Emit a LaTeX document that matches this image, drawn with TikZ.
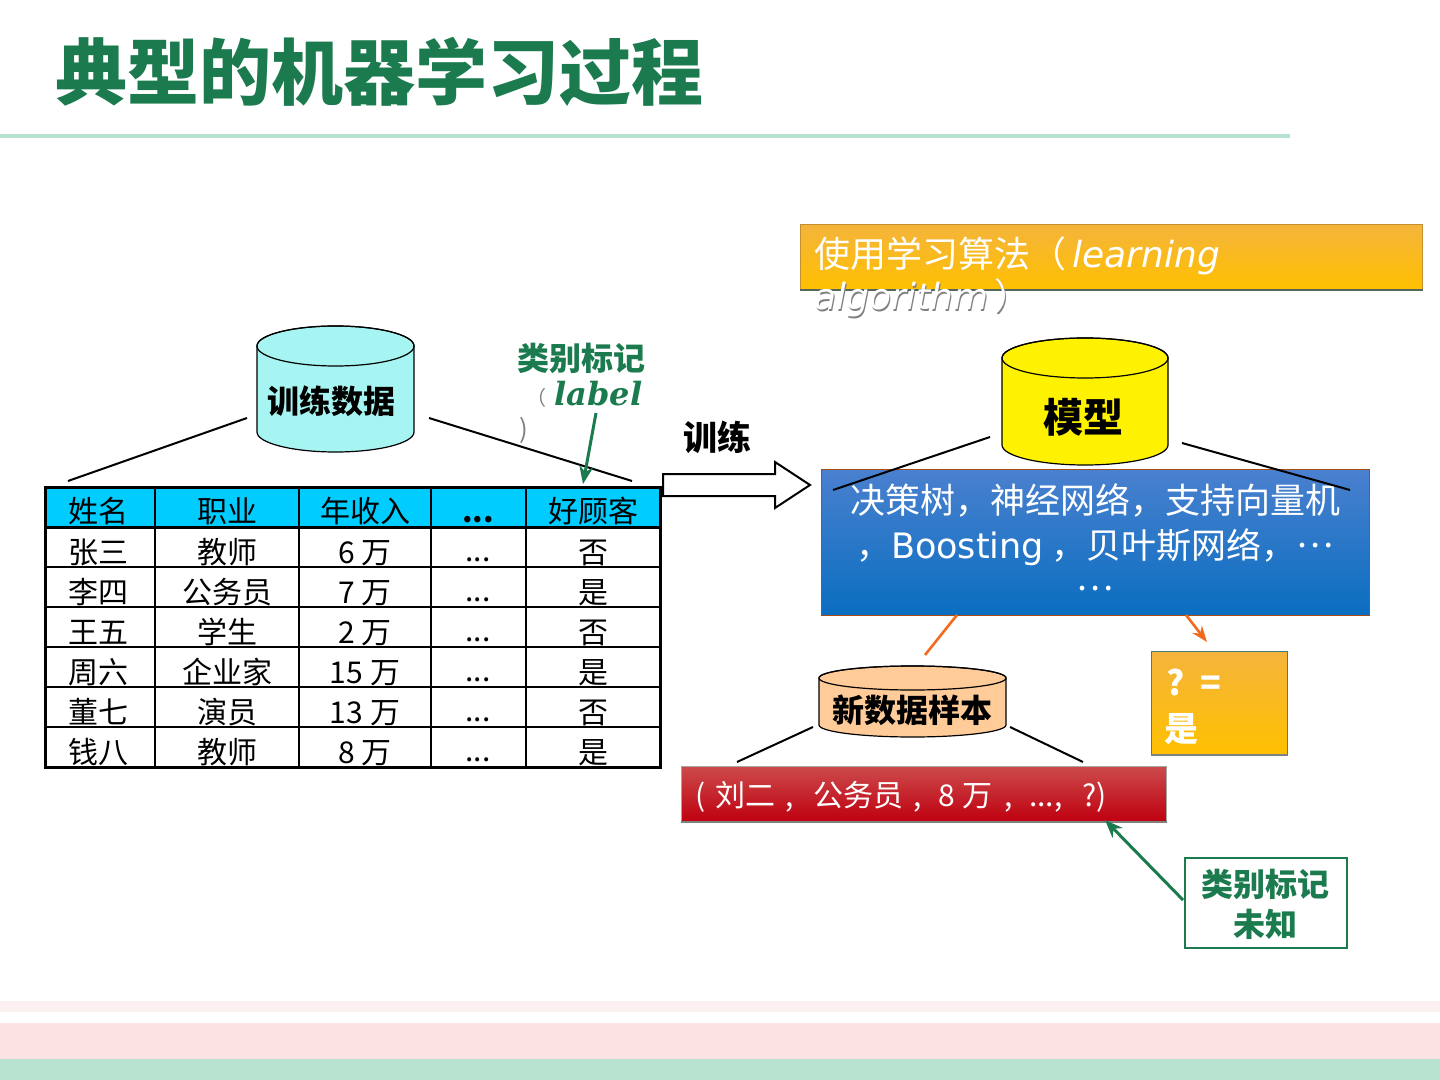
\documentclass[tikz,border=0pt]{standalone}
\usepackage{fontspec}
\setmainfont{Noto Sans CJK SC}
\newfontfamily\lat{DejaVu Sans}
\newfontfamily\ser{DejaVu Serif}
\usetikzlibrary{arrows.meta}
\definecolor{tgreen}{HTML}{1B7A4E}
\definecolor{rulegreen}{HTML}{B8E2D0}
\definecolor{cyanh}{HTML}{00CCFF}
\definecolor{cylcyan}{HTML}{A6F5F2}
\definecolor{peach}{HTML}{FFCC99}
\definecolor{orgA}{HTML}{F4B43C}
\definecolor{orgB}{HTML}{FFC000}
\definecolor{bluA}{HTML}{4A80CF}
\definecolor{bluB}{HTML}{0A6EC0}
\definecolor{redA}{HTML}{CC4A4A}
\definecolor{redB}{HTML}{BF0010}
\definecolor{pinkL}{HTML}{FCEFEF}
\definecolor{pinkM}{HTML}{FBE2E3}
\definecolor{botgreen}{HTML}{B8E3D1}
\definecolor{lineorange}{HTML}{F26B1D}
\definecolor{shadowc}{HTML}{55675A}
\tikzset{
  tcell/.style={font=\fontsize{15}{18}\selectfont, inner sep=0pt, anchor=base},
  glab/.style={text=tgreen, font=\bfseries\fontsize{16}{19}\selectfont, inner sep=0pt},
  cyllbl/.style={font=\bfseries\fontsize{16}{19}\selectfont, inner sep=0pt},
  conn/.style={line width=1pt, draw=black},
  garrow/.style={line width=1.5pt, draw=tgreen, -{Stealth[length=9pt,width=7pt]}},
  oline/.style={line width=1.3pt, draw=lineorange},
  boxnode/.style={inner sep=0pt, anchor=north west},
  wtext/.style={text=white, inner sep=0pt, anchor=base west},
}
\begin{document}
\begin{tikzpicture}[x=0.5pt,y=-0.5pt]
\useasboundingbox (0,0) rectangle (1440,1080);
% bottom bands and title rule
\fill[pinkL] (0,1001) rectangle (1440,1012);
\fill[pinkM] (0,1023) rectangle (1440,1059);
\fill[botgreen] (0,1059) rectangle (1440,1080);
\fill[rulegreen] (0,134) rectangle (1290,138);
\node[anchor=base west, text=tgreen, font=\bfseries\fontsize{36}{40}\selectfont, inner sep=0pt] (title) at (55,100) {典型的机器学习过程};

% training data cylinder
\filldraw[fill=cylcyan, draw=black, line width=0.6pt]
  (257,432) arc[start angle=180, end angle=0, x radius=78.5, y radius=20]
  -- (414,346) arc[start angle=0, end angle=-180, x radius=78.5, y radius=20] -- cycle;
\draw[line width=0.6pt] (335.5,346) ellipse[x radius=78.5, y radius=20];
\node[cyllbl] (train) at (331,401) {训练数据};
\coordinate (tL) at (247,418);
\coordinate (tR) at (429,418);
\coordinate (tbL) at (68,481);
\coordinate (tbR) at (632,481);
\draw[conn] (tL) -- (tbL);
\draw[conn] (tR) -- (tbR);

% class label
\node[glab] (lab1) at (581,358) {类别标记};
\node[anchor=base west, inner sep=0pt] (lab2) at (526,406) {{\color{gray}（}\hspace{4pt}{\ser\bfseries\itshape\color{tgreen}\fontsize{16}{18}\selectfont label}};
\node[text=gray, inner sep=0pt, font=\fontsize{13}{15}\selectfont] (lab3) at (524,430) {)};
\coordinate (labS) at (596,413);
\coordinate (labE) at (583,484);
\draw[garrow] (labS) -- (labE);

% table
\fill[cyanh] (45,487) rectangle (660,527);
\foreach \y in {567,607,647,687,727} \draw[line width=1pt] (45,\y) -- (660,\y);
\draw[line width=1.5pt] (45,527) -- (660,527);
\foreach \x in {155,299,431,526} \draw[line width=1pt] (\x,487) -- (\x,767);
\draw[line width=1.5pt] (45,487) rectangle (660,767);
\node[tcell, anchor=base west] (h1) at (68,523) {姓名};
\node[tcell] (h2) at (227,523) {职业};
\node[tcell] (h3) at (365,523) {年收入};
\node[tcell, font=\bfseries\fontsize{15}{18}\selectfont] (h4) at (478,523) {...};
\node[tcell] (h5) at (593,523) {好顾客};
\foreach \a/\b/\c/\d [count=\i] in {张三/教师/6 万/否, 李四/公务员/7 万/是, 王五/学生/2 万/否, 周六/企业家/15 万/是, 董七/演员/13 万/否, 钱八/教师/8 万/是}{
  \node[tcell, anchor=base west] (r\i c1) at (68,{527+40*\i-4}) {\a};
  \node[tcell] (r\i c2) at (227,{527+40*\i-4}) {\b};
  \node[tcell] (r\i c3) at (365,{527+40*\i-4}) {\c};
  \node[tcell] (r\i c4) at (478,{527+40*\i-6}) {...};
  \node[tcell] (r\i c5) at (593,{527+40*\i-4}) {\d};
}

% train arrow
\node[font=\bfseries\fontsize{17}{20}\selectfont, inner sep=0pt] (trainlbl) at (717,437) {训练};
\draw[line width=1pt, fill=white] (663,474) -- (775,474) -- (775,462) -- (810,485) -- (775,508) -- (775,496) -- (663,496) -- cycle;

% algorithm box
\node[boxnode, top color=orgA, bottom color=orgB, draw=orgA!80!black, line width=0.4pt, minimum width=311pt, minimum height=32.5pt] (algo) at (800,224) {};
\draw[shadowc, line width=1.2pt] (algo.south west) -- (algo.south east);
\node[wtext, font=\fontsize{18}{20}\selectfont] (algo1) at (814,268) {使用学习算法（\hspace{3pt}{\lat\itshape learning}};
\node[wtext, text=gray, font=\fontsize{18}{20}\selectfont] (algo2s) at (815.5,311.5) {{\lat\itshape algorithm}\hspace{3pt}）};
\node[wtext, font=\fontsize{18}{20}\selectfont] (algo2) at (814,310) {{\lat\itshape algorithm}\hspace{3pt}）};

% model cylinder
\filldraw[fill=yellow, draw=black, line width=0.6pt]
  (1002,445) arc[start angle=180, end angle=0, x radius=83, y radius=20]
  -- (1168,358) arc[start angle=0, end angle=-180, x radius=83, y radius=20] -- cycle;
\draw[line width=0.6pt] (1085,358) ellipse[x radius=83, y radius=20];
\node[cyllbl, font=\bfseries\fontsize{20}{24}\selectfont] (model) at (1083,417) {模型};

% blue box
\node[boxnode, top color=bluA, bottom color=bluB, draw=lineorange!70!black, line width=0.5pt, minimum width=274pt, minimum height=73pt] (algs) at (821,469) {};
\node[text=white, inner sep=0pt, anchor=base, font=\fontsize{17.5}{20}\selectfont] (algsA) at (1095,513) {决策树，神经网络，支持向量机};
\node[text=white, inner sep=0pt, anchor=base, font=\fontsize{17.5}{20}\selectfont] (algsB) at (1095,558) {，{\lat Boosting} ，贝叶斯网络，\raisebox{0.3em}{…}};
\node[text=white, inner sep=0pt, anchor=base, font=\fontsize{17.5}{20}\selectfont] (algsC) at (1095,590) {…};
\coordinate (mL) at (990,437);
\coordinate (mR) at (1182,443);
\coordinate (mbL) at (833,490);
\coordinate (mbR) at (1350,490);
\draw[conn] (mL) -- (mbL);
\draw[conn] (mR) -- (mbR);

% orange connectors
\coordinate (oA1) at (957,615);
\coordinate (oA2) at (925,655);
\coordinate (oB1) at (1186,615);
\coordinate (oB2) at (1207,642);
\draw[oline] (oA1) -- (oA2);
\draw[oline, -{Stealth[length=8pt,width=6pt]}] (oB1) -- (oB2);

% answer box
\node[boxnode, top color=orgA, bottom color=orgB, draw=teal!50!gray, line width=0.5pt, minimum width=68pt, minimum height=51.5pt] (ans) at (1151,651) {};
\draw[gray, line width=1.2pt] (ans.south west) -- (ans.south east);
\node[wtext, font=\bfseries\fontsize{17}{20}\selectfont] (ans1) at (1166,695) {?\hspace{8pt}=};
\node[wtext, font=\bfseries\fontsize{17}{20}\selectfont] (ans2) at (1164,741) {是};

% new data cylinder
\filldraw[fill=peach, draw=black, line width=0.6pt]
  (819,725) arc[start angle=180, end angle=0, x radius=93.5, y radius=12]
  -- (1006,678) arc[start angle=0, end angle=-180, x radius=93.5, y radius=12] -- cycle;
\draw[line width=0.6pt] (912.5,678) ellipse[x radius=93.5, y radius=12];
\node[cyllbl] (newd) at (912,710) {新数据样本};
\coordinate (nL) at (813,727);
\coordinate (nR) at (1010,727);
\coordinate (nbL) at (737,762);
\coordinate (nbR) at (1083,762);
\draw[conn] (nL) -- (nbL);
\draw[conn] (nR) -- (nbR);

% red sample box
\node[boxnode, top color=redA, bottom color=redB, draw=gray!70, line width=0.5pt, minimum width=242.5pt, minimum height=27.5pt] (sample) at (681,766) {};
\draw[gray, line width=1pt] (sample.south west) -- (sample.south east);
\node[wtext, font=\fontsize{15}{18}\selectfont] (sampleT) at (695,806) {(\hspace{5pt}刘二\hspace{5pt},\hspace{10pt}公务员\hspace{5pt},\hspace{8pt}8\hspace{4pt}万\hspace{6pt},\hspace{8pt}...,\hspace{10pt}?)};

% unknown label box
\node[boxnode, draw=tgreen, fill=white, line width=1pt, minimum width=81pt, minimum height=45pt] (unk) at (1184,857) {};
\node[glab, align=center, font=\bfseries\fontsize{16}{19}\selectfont] (unkT) at (1265,904) {类别标记\\[1pt]未知};
\coordinate (uS) at (1183,900);
\coordinate (uE) at (1105,820);
\draw[garrow] (uS) -- (uE);
\end{tikzpicture}
\end{document}
